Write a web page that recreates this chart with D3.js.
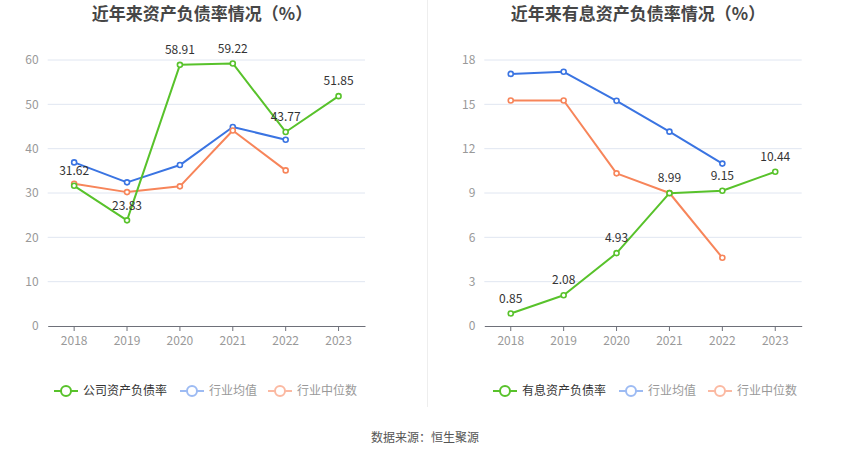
<!DOCTYPE html>
<html><head><meta charset="utf-8">
<script src="https://cdn.jsdelivr.net/npm/d3@7/dist/d3.min.js"></script>
<style>body{margin:0;background:#fff;}svg{display:block;font-family:"Noto Sans CJK SC","Noto Sans",sans-serif;}</style>
</head><body>
<svg id="c" width="850" height="459"></svg>
<script>
const years = ["2018","2019","2020","2021","2022","2023"];
const leftTitle = "近年来资产负债率情况（%）";
const rightTitle = "近年来有息资产负债率情况（%）";
const leftNames = ["公司资产负债率","行业均值","行业中位数"];
const rightNames = ["有息资产负债率","行业均值","行业中位数"];
const leftCompany = [31.62, 23.83, 58.91, 59.22, 43.77, 51.85];
const leftAvg = [36.9, 32.4, 36.3, 44.9, 42.0];
const leftMedian = [32.1, 30.2, 31.5, 44.1, 35.1];
const rightCompany = [0.85, 2.08, 4.93, 8.99, 9.15, 10.44];
const rightAvg = [17.06, 17.2, 15.24, 13.15, 10.99];
const rightMedian = [15.26, 15.26, 10.33, 9.0, 4.62];
const leftTicks = [0,10,20,30,40,50,60];
const rightTicks = [0,3,6,9,12,15,18];
const source = "数据来源：恒生聚源";

const colors = ["#58c22b","#3a74e2","#f7855a"];
const fadedColors = ["#58c22b","#9dbbf3","#fbb9a2"];
const svg = d3.select("#c");

function panel(cfg){
  const g = svg.append("g");
  const x = d3.scaleBand().domain(years).range(cfg.xr);
  const y = d3.scaleLinear().domain([0, cfg.max]).range([326, 60]);
  const cx = d => x(d) + x.bandwidth()/2;
  // grid
  g.selectAll("line.grid").data(cfg.ticks.filter(t=>t>0)).join("line")
    .attr("x1", cfg.xr[0]).attr("x2", cfg.xr[1])
    .attr("y1", d=>y(d)).attr("y2", d=>y(d))
    .attr("stroke","#e0e6f1").attr("stroke-width",1);
  // y labels
  g.selectAll("text.yl").data(cfg.ticks).join("text")
    .attr("x", cfg.xr[0]-9).attr("y", d=>y(d)).attr("dy","0.35em")
    .attr("text-anchor","end").attr("fill","#999").attr("font-size",12).text(d=>d);
  // x axis
  const ax = g.append("g").attr("transform","translate(0,326)")
    .call(d3.axisBottom(x).tickSize(5).tickPadding(5).tickSizeOuter(0));
  ax.select(".domain").attr("stroke","#6e7079");
  ax.selectAll(".tick line").attr("stroke","#6e7079");
  ax.selectAll(".tick text").attr("fill","#999").attr("font-size",12).attr("font-family",'"Noto Sans CJK SC","Noto Sans",sans-serif');
  // title
  g.append("text").attr("x", cfg.tx).attr("y", 14).attr("dy","0.35em").attr("text-anchor","middle")
    .attr("font-size",17).attr("font-weight","bold").attr("fill","#464646").text(cfg.title);
  // series
  const series = [cfg.avg, cfg.median, cfg.company];
  const cols = [colors[1], colors[2], colors[0]];
  series.forEach((s,i)=>{
    const pts = s.map((v,j)=>[cx(years[j]), y(v)]);
    g.append("path").attr("d", d3.line()(pts)).attr("fill","none")
      .attr("stroke", cols[i]).attr("stroke-width",2).attr("stroke-linejoin","round");
    g.selectAll(null).data(pts).join("circle").attr("cx",d=>d[0]).attr("cy",d=>d[1]).attr("r",2.5)
      .attr("fill","#fff").attr("stroke",cols[i]).attr("stroke-width",1.6);
  });
  g.selectAll(null).data(cfg.company).join("text")
    .attr("x",(d,j)=>cx(years[j])).attr("y",d=>y(d)-15).attr("dy","0.35em")
    .attr("text-anchor","middle").attr("font-size",12).attr("fill","#333").text(d=>d.toFixed(2));
  // legend
  cfg.legend.forEach((lx,i)=>{
    const lg = g.append("g").attr("transform",`translate(${lx},391)`);
    lg.append("line").attr("x1",0).attr("x2",24).attr("stroke",fadedColors[i]).attr("stroke-width",2);
    lg.append("circle").attr("cx",12).attr("r",5).attr("fill","#fff").attr("stroke",fadedColors[i]).attr("stroke-width",2);
    lg.append("text").attr("x",29).attr("dy","0.35em").attr("font-size",12)
      .attr("fill", i===0 ? "#333" : "#999").text(cfg.names[i]);
  });
}

panel({xr:[47.7,365], max:60, ticks:leftTicks, title:leftTitle, tx:202,
  company:leftCompany, avg:leftAvg, median:leftMedian, names:leftNames, legend:[54,180,268]});
panel({xr:[484.3,801.7], max:18, ticks:rightTicks, title:rightTitle, tx:638,
  company:rightCompany, avg:rightAvg, median:rightMedian, names:rightNames, legend:[493,619,708]});

svg.append("line").attr("x1",427.5).attr("x2",427.5).attr("y1",0).attr("y2",407)
  .attr("stroke","#eeeeee").attr("stroke-width",1);
svg.append("text").attr("x",425).attr("y",438).attr("dy","0.35em").attr("text-anchor","middle")
  .attr("font-size",12).attr("fill","#555").text(source);
</script>
</body></html>
